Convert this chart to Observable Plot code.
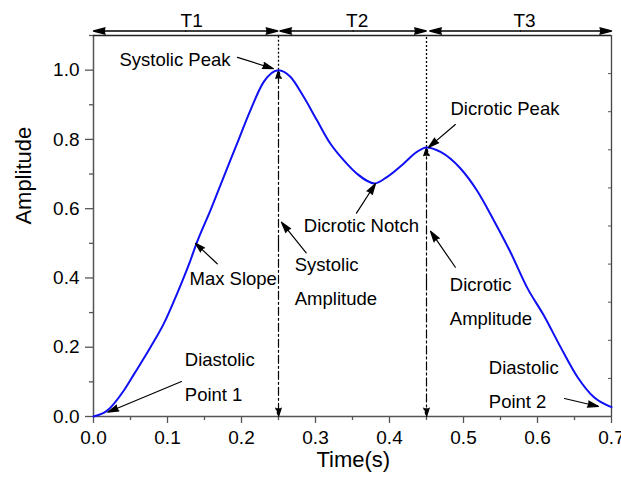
<!DOCTYPE html>
<html>
<head>
<meta charset="utf-8">
<script src="https://cdn.jsdelivr.net/npm/d3@7"></script>
<script src="https://cdn.jsdelivr.net/npm/@observablehq/plot@0.6"></script>
<style>
  body { margin: 0; background: white; }
</style>
</head>
<body>
<div id="chart"></div>
<script>
// Pulse waveform samples
const time = [0, 0.0185, 0.041, 0.055, 0.077, 0.095, 0.113, 0.131, 0.140, 0.158, 0.176, 0.194, 0.212, 0.230, 0.250, 0.266, 0.284, 0.302, 0.320, 0.338, 0.356, 0.380, 0.397, 0.419, 0.437, 0.450, 0.469, 0.496, 0.518, 0.541, 0.564, 0.586, 0.609, 0.631, 0.654, 0.676, 0.700];
const amplitude = [0, 0.017, 0.075, 0.123, 0.200, 0.268, 0.355, 0.451, 0.504, 0.595, 0.692, 0.788, 0.884, 0.966, 1.000, 0.981, 0.923, 0.855, 0.788, 0.740, 0.701, 0.673, 0.692, 0.730, 0.764, 0.777, 0.764, 0.716, 0.653, 0.566, 0.472, 0.372, 0.290, 0.201, 0.114, 0.056, 0.027];

// Tick values
const xTicks = [0, 0.1, 0.2, 0.3, 0.4, 0.5, 0.6, 0.7];
const xMinor = [0.05, 0.15, 0.25, 0.35, 0.45, 0.55, 0.65];
const yTicks = [0, 0.2, 0.4, 0.6, 0.8, 1.0];
const yMinor = [0.1, 0.3, 0.5, 0.7, 0.9, 1.1];
const rightTicks = [0.11, 0.22, 0.33, 0.44, 0.55, 0.66, 0.77, 0.88, 0.99];

// Peaks (vertical markers)
const peakTime = [0.25, 0.45];
const peakAmp = [1.0, 0.777];

// Interval arrows T1..T3
const intervalNames = ["T1", "T2", "T3"];
const intervalStart = [0, 0.252, 0.4545];
const intervalEnd = [0.249, 0.4496, 0.7];
const intervalLabelX = [0.1327, 0.3563, 0.5824];

// Annotation texts
const noteText = ["Systolic Peak", "Dicrotic Peak", "Dicrotic Notch", "Max Slope", "Systolic", "Amplitude", "Dicrotic", "Amplitude", "Diastolic", "Point 1", "Diastolic", "Point 2"];
const noteX = [0.0351, 0.4824, 0.2842, 0.1297, 0.272, 0.272, 0.4815, 0.4815, 0.1234, 0.1234, 0.5342, 0.5342];
const noteY = [1.028, 0.889, 0.551, 0.398, 0.436, 0.338, 0.378, 0.280, 0.162, 0.0606, 0.1386, 0.0413];

// Annotation arrows (from -> to)
const arrX1 = [0.1946, 0.489, 0.3554, 0.1672, 0.2874, 0.489, 0.1189, 0.6365];
const arrY1 = [1.037, 0.843, 0.587, 0.441, 0.4726, 0.431, 0.101, 0.052];
const arrX2 = [0.2432, 0.4527, 0.381, 0.1378, 0.254, 0.4554, 0.0193, 0.6824];
const arrY2 = [1.004, 0.777, 0.672, 0.500, 0.561, 0.535, 0.0124, 0.0289];

const wave = time.map((t, i) => ({t, a: amplitude[i]}));
const peaks = peakTime.map((t, i) => ({t, a: peakAmp[i], mid: peakAmp[i] / 2}));
const intervals = intervalNames.map((n, i) => ({n, s: intervalStart[i], e: intervalEnd[i], m: (intervalStart[i] + intervalEnd[i]) / 2, lx: intervalLabelX[i]}));
const notes = noteText.map((text, i) => ({text, x: noteX[i], y: noteY[i]}));
const arrows = arrX1.map((x1, i) => ({x1, y1: arrY1[i], x2: arrX2[i], y2: arrY2[i]}));
const topLevel = 1.113;
const labelLevel = 1.143;

const axisColor = "#555";
const fmt = d3.format(".1f");

const chart = Plot.plot({
  width: 621,
  height: 481,
  marginLeft: 93,
  marginRight: 10,
  marginTop: 35,
  marginBottom: 65,
  x: {domain: [0, 0.7], axis: null},
  y: {domain: [0, 1.1], axis: null},
  style: {fontFamily: "'Liberation Sans', Arial, sans-serif", fontSize: "18px", color: "black", background: "white"},
  marks: [
    // axes
    Plot.axisX({ticks: xTicks, tickFormat: fmt, tickSize: 7, tickPadding: 7, stroke: axisColor, strokeWidth: 1.3, fontSize: 19, label: null}),
    Plot.axisX({ticks: xMinor, tickFormat: () => "", tickSize: 4, stroke: axisColor, strokeWidth: 1.3, label: null}),
    Plot.axisY({ticks: yTicks, tickFormat: fmt, tickSize: 8, tickPadding: 6, stroke: axisColor, strokeWidth: 1.3, fontSize: 19, label: null}),
    Plot.axisY({ticks: yMinor, tickFormat: () => "", tickSize: 4, stroke: axisColor, strokeWidth: 1.3, label: null}),
    Plot.axisY({anchor: "right", ticks: rightTicks, tickFormat: () => "", tickSize: -4, stroke: axisColor, strokeWidth: 1, label: null}),
    Plot.ruleX([0], {stroke: axisColor, strokeWidth: 1.5}),
    Plot.ruleY([0], {stroke: axisColor, strokeWidth: 1.5}),
    Plot.ruleY([1.1], {stroke: "#222", strokeWidth: 1.3}),
    Plot.ruleX([0.7], {stroke: "#444", strokeWidth: 1.3}),
    // dotted lines above peaks
    Plot.ruleX(peaks, {x: "t", y1: "a", y2: 1.1, stroke: "black", strokeWidth: 1.3, strokeDasharray: "2,2"}),
    // dash-dot amplitude arrows
    Plot.arrow(peaks, {x: "t", y1: "mid", y2: 0, stroke: "black", fill: "black", strokeWidth: 1.2, strokeDasharray: "8,3,2,3", headAngle: 36, headLength: 11}),
    Plot.arrow(peaks, {x: "t", y1: "mid", y2: "a", stroke: "black", fill: "black", strokeWidth: 1.2, strokeDasharray: "8,3,2,3", headAngle: 36, headLength: 11}),
    // interval arrows
    Plot.arrow(intervals, {x1: "m", x2: "s", y: topLevel, stroke: "black", fill: "black", strokeWidth: 1.5, headAngle: 30, headLength: 12}),
    Plot.arrow(intervals, {x1: "m", x2: "e", y: topLevel, stroke: "black", fill: "black", strokeWidth: 1.5, headAngle: 30, headLength: 12}),
    Plot.text(intervals, {x: "lx", y: labelLevel, text: "n", fontSize: 19}),
    // waveform
    Plot.line(wave, {x: "t", y: "a", stroke: "#1010f5", strokeWidth: 2, curve: "monotone-x"}),
    // annotation arrows and texts
    Plot.arrow(arrows, {x1: "x1", y1: "y1", x2: "x2", y2: "y2", stroke: "black", fill: "black", strokeWidth: 1.2, headAngle: 32, headLength: 14}),
    Plot.text(notes, {x: "x", y: "y", text: "text", textAnchor: "start", fontSize: 18.5}),
    // axis titles
    Plot.text(["Amplitude"], {frameAnchor: "left", y: [0.554], text: d => d, rotate: -90, dx: -70, fontSize: 22}),
    Plot.text(["Time(s)"], {frameAnchor: "bottom", x: [0.351], text: d => d, dy: 50, fontSize: 22})
  ]
});
document.getElementById("chart").append(chart);
</script>
</body>
</html>
